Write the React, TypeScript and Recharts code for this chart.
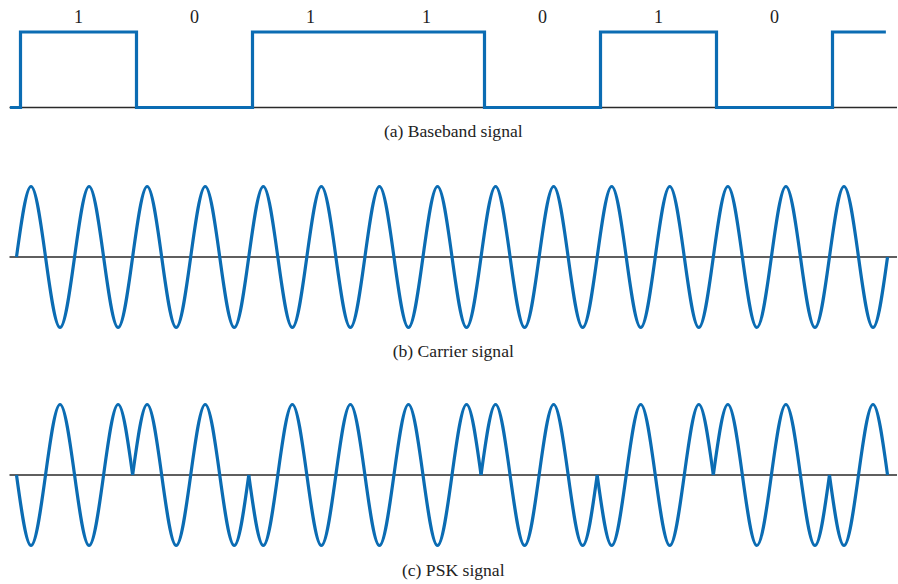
import React from "react"
import { LineChart, Line, XAxis, YAxis, ReferenceLine } from "recharts"

// bit stream (last bit is only half shown)
const bits = [1, 0, 1, 1, 0, 1, 0, 1]
const bitLabels = ["1", "0", "1", "1", "0", "1", "0"]
const bitLabelTicks = [0.5, 1.5, 2.5, 3.5, 4.5, 5.5, 6.5]
// baseband lead-in / end, in bit periods
const basebandStart = -0.09
const basebandEnd = 7.46

// samples every quarter carrier cycle (zero, peak, zero, trough ...)
const carrier = [
   0, 1, 0, -1, 0, 1, 0, -1,
   0, 1, 0, -1, 0, 1, 0, -1,
   0, 1, 0, -1, 0, 1, 0, -1,
   0, 1, 0, -1, 0, 1, 0, -1,
   0, 1, 0, -1, 0, 1, 0, -1,
   0, 1, 0, -1, 0, 1, 0, -1,
   0, 1, 0, -1, 0, 1, 0, -1,
   0, 1, 0, -1,
   0,
]

const psk = [
   0, -1, 0, 1, 0, -1, 0, 1,
   0, 1, 0, -1, 0, 1, 0, -1,
   0, -1, 0, 1, 0, -1, 0, 1,
   0, -1, 0, 1, 0, -1, 0, 1,
   0, 1, 0, -1, 0, 1, 0, -1,
   0, -1, 0, 1, 0, -1, 0, 1,
   0, 1, 0, -1, 0, 1, 0, -1,
   0, -1, 0, 1,
   0,
]

const captions = ["(a) Baseband signal", "(b) Carrier signal", "(c) PSK signal"]

const BLUE = "#0b6cb3"
const AXIS = "#2a2a2a"
const FONT = "'Liberation Serif', 'DejaVu Serif', serif"
const W = 898
const H = 584
const SAMPLES_PER_BIT = 8

const basebandData = [
   { t: basebandStart, v: 0 },
   ...bits.map((b, i) => ({ t: i, v: b })),
   { t: basebandEnd, v: bits[bits.length - 1] },
]

const carrierData = carrier.map((v, i) => ({ t: i / 4, v }))

// split the PSK trace at phase reversals so the cusps stay sharp
const runStarts = [0]
bits.forEach((b, k) => {
   if (k > 0 && b !== bits[k - 1]) runStarts.push(k * SAMPLES_PER_BIT)
})
const runs = runStarts.map((s, r) => [
   s,
   r + 1 < runStarts.length ? runStarts[r + 1] : psk.length - 1,
])
const pskData = psk.map((v, i) => {
   const row: Record<string, number> = { t: i / 4 }
   runs.forEach(([a, b], r) => {
      if (i >= a && i <= b) row[`s${r}`] = v
   })
   return row
})

const cycleDomain: [number, number] = [-0.1205, 15.163]
const bitDomain: [number, number] = [-0.0948, 7.556]

const labelStyle = { fill: "#222", fontSize: 17.6, fontFamily: FONT }

const layer: React.CSSProperties = { position: "absolute", left: 0, top: 0 }

const App = () => {
   return (
      <div
         style={{
            position: "absolute",
            left: 0,
            top: 0,
            width: W,
            height: H,
            background: "#fff",
            fontFamily: FONT,
         }}
      >
         <div style={layer}>
            <LineChart
               width={W}
               height={H}
               data={basebandData}
               margin={{ top: 2, right: 1, left: 9.5, bottom: H - 136.7 }}
            >
               <XAxis
                  xAxisId="bits"
                  orientation="top"
                  type="number"
                  dataKey="t"
                  domain={bitDomain}
                  ticks={bitLabelTicks}
                  interval={0}
                  tickFormatter={(v: number) => bitLabels[Math.floor(v)]}
                  axisLine={false}
                  tickLine={false}
                  tickMargin={3}
                  height={30}
                  tick={{ fill: "#222", fontSize: 18, fontFamily: FONT }}
               />
               <XAxis
                  type="number"
                  dataKey="t"
                  domain={bitDomain}
                  axisLine={false}
                  tickLine={false}
                  tick={false}
                  height={29.2}
                  label={{ value: captions[0], position: "insideBottom", offset: 0, ...labelStyle }}
               />
               <YAxis hide width={0} domain={[0, 1]} />
               <ReferenceLine y={0} stroke={AXIS} strokeWidth={1.3} />
               <Line
                  type="stepAfter"
                  dataKey="v"
                  stroke={BLUE}
                  strokeWidth={3.2}
                  dot={false}
                  isAnimationActive={false}
               />
            </LineChart>
         </div>

         <div style={layer}>
            <LineChart
               width={W}
               height={H}
               data={carrierData}
               margin={{ top: 186.5, right: 1, left: 9.5, bottom: H - 356.7 }}
            >
               <XAxis
                  type="number"
                  dataKey="t"
                  domain={cycleDomain}
                  axisLine={false}
                  tickLine={false}
                  tick={false}
                  height={29.2}
                  label={{ value: captions[1], position: "insideBottom", offset: 0, ...labelStyle }}
               />
               <YAxis hide width={0} domain={[-1, 1]} />
               <ReferenceLine y={0} stroke={AXIS} strokeWidth={1.3} />
               <Line
                  type="natural"
                  dataKey="v"
                  stroke={BLUE}
                  strokeWidth={3.2}
                  dot={false}
                  isAnimationActive={false}
               />
            </LineChart>
         </div>

         <div style={layer}>
            <LineChart
               width={W}
               height={H}
               data={pskData}
               margin={{ top: 404.5, right: 1, left: 9.5, bottom: H - 576 }}
            >
               <XAxis
                  type="number"
                  dataKey="t"
                  domain={cycleDomain}
                  axisLine={false}
                  tickLine={false}
                  tick={false}
                  height={30.5}
                  label={{ value: captions[2], position: "insideBottom", offset: 0, ...labelStyle }}
               />
               <YAxis hide width={0} domain={[-1, 1]} />
               <ReferenceLine y={0} stroke={AXIS} strokeWidth={1.3} />
               {runs.map((_, r) => (
                  <Line
                     key={r}
                     type="natural"
                     dataKey={`s${r}`}
                     stroke={BLUE}
                     strokeWidth={3.2}
                     dot={false}
                     connectNulls={false}
                     isAnimationActive={false}
                  />
               ))}
            </LineChart>
         </div>
      </div>
   )
}

export default App
